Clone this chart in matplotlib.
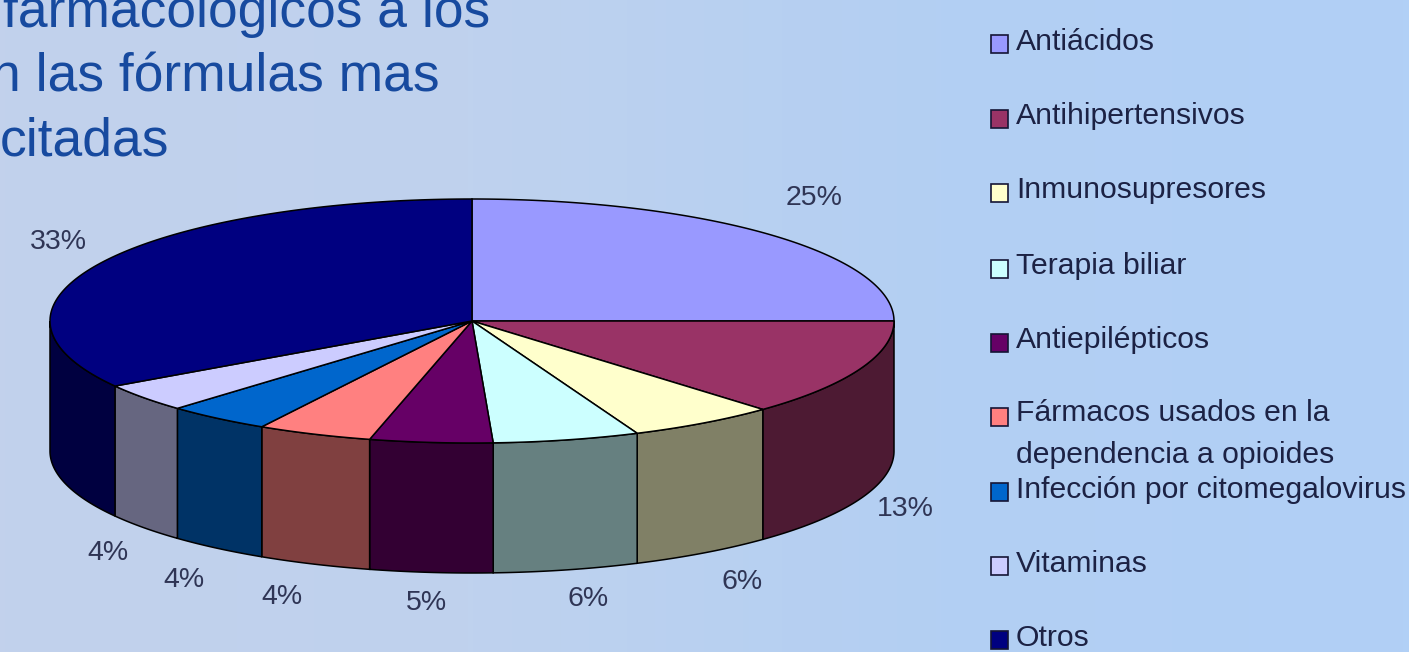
import numpy as np
import matplotlib
matplotlib.use("Agg")
import matplotlib.pyplot as plt
from matplotlib.colors import LinearSegmentedColormap

plt.rcParams['font.family'] = ['Liberation Sans', 'DejaVu Sans']

categories = ["Antiácidos", "Antihipertensivos", "Inmunosupresores", "Terapia biliar", "Antiepilépticos",
              "Fármacos usados en la\ndependencia a opioides", "Infección por citomegalovirus", "Vitaminas", "Otros"]
shares = [25, 12.9, 5.7, 5.6, 4.7, 4.4, 4.0, 3.75, 33.95]
pct_labels = ["25%", "13%", "6%", "6%", "5%", "4%", "4%", "4%", "33%"]
top_colors = ["#9999ff", "#993366", "#ffffcc", "#ccffff", "#660066", "#ff8080", "#0066cc", "#ccccff", "#000080"]
side_colors = ["#4d4d80", "#4d1a33", "#808066", "#668080", "#330033", "#804040", "#003366", "#666680", "#000040"]
pct_xy = [(814, 198), (905, 509), (742, 582), (588, 599), (426, 603), (282, 597), (184, 580), (108, 553), (58, 242)]
legend_y = [44, 119, 193, 269, 343, 417, 492, 566, 640]
legend_text_y = [42, 116, 190, 266, 340, 434, 490, 564, 638]

fig = plt.figure(figsize=(14.09, 6.52), dpi=100)
ax = fig.add_axes([0, 0, 1, 1])
ax.set_xlim(0, 1409)
ax.set_ylim(652, 0)
ax.axis('off')

cmap = LinearSegmentedColormap.from_list("bg", ["#c2d1ec", "#bfd2ee", "#b3cff3", "#b1d0f6"])
ax.imshow(np.linspace(0, 1, 256).reshape(1, -1), cmap=cmap, extent=(0, 1409, 652, 0), aspect='auto', zorder=0)

cx, cy, rx, ry, depth = 472, 321, 422, 122, 130

def rim(a0, a1):
    t = np.radians(np.linspace(a0, a1, 120))
    return cx + rx * np.sin(t), cy - ry * np.cos(t)

start = 0
for i in range(len(shares)):
    end = start + shares[i] * 3.6
    # outer wall, only the part on the front half is seen
    a0, a1 = max(start, 90), min(end, 270)
    if a1 > a0:
        x, y = rim(a0, a1)
        ax.fill(np.r_[x, x[::-1]], np.r_[y, y[::-1] + depth], facecolor=side_colors[i],
                edgecolor='black', linewidth=1.1, zorder=2)
    x, y = rim(start, end)
    ax.fill(np.r_[cx, x], np.r_[cy, y], facecolor=top_colors[i], edgecolor='black', linewidth=1.1, zorder=3)
    start = end

for i in range(len(pct_labels)):
    ax.text(pct_xy[i][0], pct_xy[i][1], pct_labels[i], fontsize=20.5, color="#2f3555", ha='center', va='center', zorder=4)

for i in range(len(categories)):
    ax.fill([991, 1008, 1008, 991], [legend_y[i] - 9, legend_y[i] - 9, legend_y[i] + 9, legend_y[i] + 9],
            facecolor=top_colors[i], edgecolor='#151535', linewidth=1.2, zorder=4)
    ax.text(1016, legend_text_y[i], categories[i], fontsize=21.7, color="#1c2244", ha='left', va='center',
            linespacing=1.6, zorder=4)

title_color = "#174a9f"
ax.text(3, 27, "farmacológicos a los", fontsize=38.4, color=title_color, va='baseline', zorder=4)
ax.text(-9, 91, "n las fórmulas mas", fontsize=38.4, color=title_color, va='baseline', zorder=4)
ax.text(0, 155, "citadas", fontsize=38.4, color=title_color, va='baseline', zorder=4)

plt.savefig("out.png", dpi=100)
